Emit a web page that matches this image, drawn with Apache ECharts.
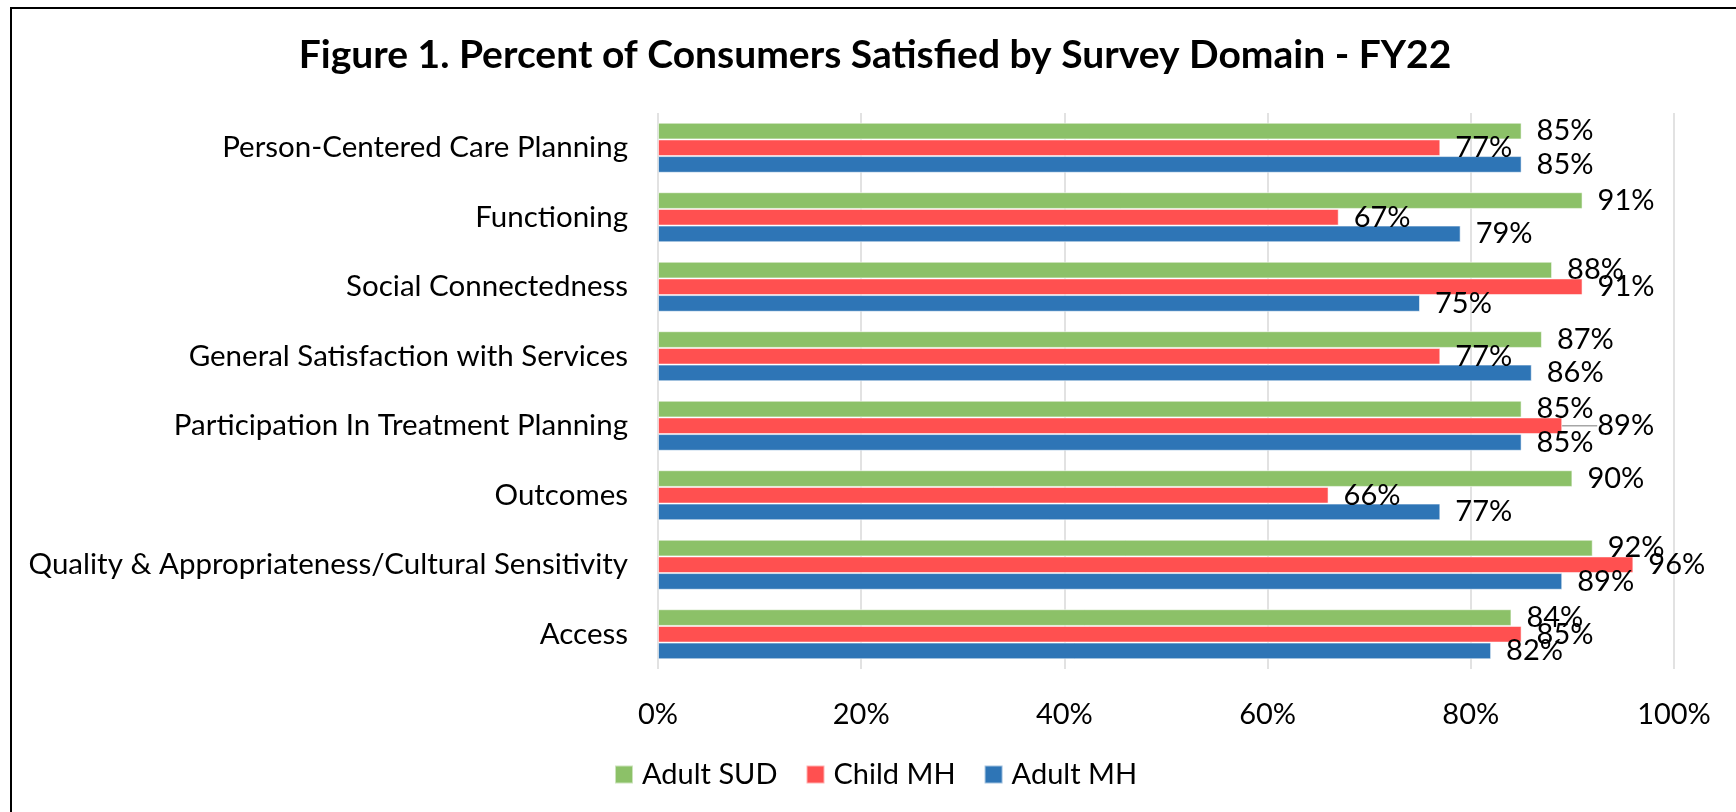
<!DOCTYPE html>
<html>
<head>
<meta charset="utf-8">
<title>Percent of Consumers Satisfied by Survey Domain - FY22</title>
<script src="https://cdn.jsdelivr.net/npm/echarts@6/dist/echarts.min.js"></script>
<style>
  html, body { margin: 0; padding: 0; background: #fff; }
  #chart { width: 1736px; height: 812px; }
</style>
</head>
<body>
<div id="chart"></div>
<script>
// Survey domains, listed bottom-to-top along the category axis
const domains = [
  'Access',
  'Quality & Appropriateness/Cultural Sensitivity',
  'Outcomes',
  'Participation In Treatment Planning',
  'General Satisfaction with Services',
  'Social Connectedness',
  'Functioning',
  'Person-Centered Care Planning'
];

// Percent satisfied per domain, same order as domains
const adultSUD = [84, 92, 90, 85, 87, 88, 91, 85];
const childMH  = [85, 96, 66, 89, 77, 91, 67, 77];
const adultMH  = [82, 89, 77, 85, 86, 75, 79, 85];

const seriesNames = ['Adult SUD', 'Child MH', 'Adult MH'];

const axisTicks = [0, 20, 40, 60, 80, 100];

// The Child MH label in this domain sits further out, joined by a leader line
const movedLabelDomain = 'Participation In Treatment Planning';

const FONT = 'Lato, "Open Sans", sans-serif';
const TEXT_SIZE = 29;
const colors = { 'Adult MH': '#2E75B6', 'Child MH': '#FF5050', 'Adult SUD': '#8CC168' };

const chart = echarts.init(document.getElementById('chart'));

function barSeries(name, values, extra) {
  return Object.assign({
    name: name,
    type: 'bar',
    data: values,
    barGap: '0%',
    barCategoryGap: '28%',
    itemStyle: { color: colors[name], borderColor: 'rgba(255,255,255,0.55)', borderWidth: 1 },
    label: {
      show: true,
      position: 'right',
      distance: 15,
      formatter: p => p.value + '%',
      fontFamily: FONT,
      fontSize: TEXT_SIZE,
      color: '#000'
    },
    labelLine: { show: false },
    emphasis: { disabled: true },
    animation: false
  }, extra || {});
}

const movedIdx = domains.indexOf(movedLabelDomain);
const childData = childMH.map((v, i) => i === movedIdx
  ? { value: v, labelLine: { show: true, lineStyle: { color: '#A6A6A6', width: 1.5 } } }
  : v);

chart.setOption({
  backgroundColor: '#fff',
  textStyle: { fontFamily: FONT },
  title: {
    text: 'Figure 1. Percent of Consumers Satisfied by Survey Domain - FY22',
    left: 870,
    top: 31,
    textAlign: 'center',
    textStyle: { fontFamily: FONT, fontWeight: 'bold', fontSize: 39, color: '#000' }
  },
  legend: {
    data: seriesNames,
    left: 614,
    top: 760,
    padding: 0,
    itemWidth: 18,
    itemHeight: 18,
    itemGap: 28,
    icon: 'rect',
    textStyle: { fontFamily: FONT, fontSize: TEXT_SIZE, color: '#000', padding: [0, 0, 0, 4] }
  },
  grid: { left: 658, width: 1016, top: 113, height: 556, containLabel: false },
  xAxis: {
    type: 'value',
    min: axisTicks[0],
    max: axisTicks[axisTicks.length - 1],
    interval: axisTicks[1] - axisTicks[0],
    axisLine: { show: false },
    axisTick: { show: false },
    splitLine: { show: true, lineStyle: { color: '#D9D9D9', width: 1.5 } },
    axisLabel: { formatter: v => v + '%', fontFamily: FONT, fontSize: TEXT_SIZE, color: '#000', margin: 31 }
  },
  yAxis: {
    type: 'category',
    data: domains,
    axisLine: { show: false },
    axisTick: { show: false },
    splitLine: { show: false },
    axisLabel: { fontFamily: FONT, fontSize: 29.5, color: '#000', margin: 30 }
  },
  series: [
    barSeries(seriesNames[0], adultSUD),
    barSeries(seriesNames[1], childData, {
      labelLayout: p => (p.dataIndex === movedIdx ? { dx: 20 } : {})
    }),
    barSeries(seriesNames[2], adultMH)
  ],
  graphic: [{
    type: 'polyline',
    silent: true,
    shape: { points: [[11, 812], [11, 8], [1736, 8]] },
    style: { stroke: '#000', lineWidth: 2, fill: null }
  }]
});
</script>
</body>
</html>
